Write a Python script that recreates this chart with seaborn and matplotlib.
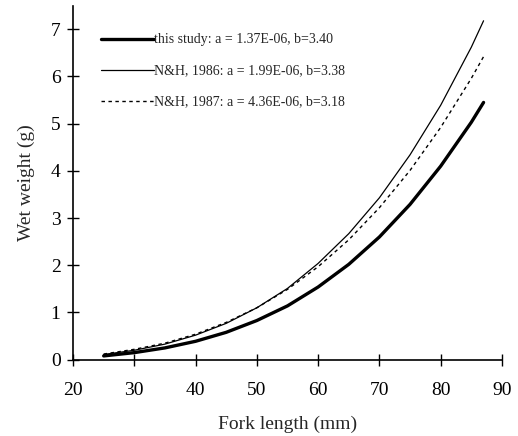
import pandas as pd
import matplotlib.pyplot as plt
import seaborn as sns

# fork length (mm) and wet weight (g)
fork_length = [25, 30, 35, 40, 45, 50, 55, 60, 65, 70, 75, 80, 85, 87]
this_study = [0.08, 0.15, 0.25, 0.39, 0.58, 0.83, 1.14, 1.54, 2.02, 2.60, 3.29, 4.10, 5.03, 5.45]
nh_1986 = [0.11, 0.20, 0.33, 0.52, 0.77, 1.10, 1.51, 2.04, 2.67, 3.43, 4.34, 5.39, 6.62, 7.18]
nh_1987 = [0.12, 0.22, 0.35, 0.54, 0.79, 1.10, 1.49, 1.97, 2.54, 3.22, 4.01, 4.92, 5.96, 6.42]

labels = ['this study: a = 1.37E-06, b=3.40',
          'N&H, 1986: a = 1.99E-06, b=3.38',
          'N&H, 1987: a = 4.36E-06, b=3.18']

df = pd.DataFrame({'fork_length': fork_length,
                   'this_study': this_study,
                   'nh_1986': nh_1986,
                   'nh_1987': nh_1987})

sns.set_style('ticks')
plt.rcParams['font.family'] = ['Liberation Serif', 'DejaVu Serif']

fig = plt.figure(figsize=(5.18, 4.36), dpi=100)
ax = fig.add_axes([0.141, 0.175, 0.828, 0.812])

sns.lineplot(data=df, x='fork_length', y='this_study', color='black', linewidth=2.4, label=labels[0], ax=ax)
sns.lineplot(data=df, x='fork_length', y='nh_1986', color='black', linewidth=0.9, label=labels[1], ax=ax)
sns.lineplot(data=df, x='fork_length', y='nh_1987', color='black', linewidth=1.0,
             linestyle=(0, (2.5, 2.5)), label=labels[2], ax=ax)

ax.set_xlim(20, 90)
ax.set_ylim(0, 7.5)
ax.set_xticks(range(20, 91, 10))
ax.set_yticks(range(0, 8))
ax.set_xlabel('Fork length (mm)', fontsize=14, labelpad=12)
ax.set_ylabel('Wet weight (g)', fontsize=14, labelpad=11)
ax.tick_params(direction='inout', length=8, width=1, labelsize=14, colors='black')
ax.tick_params(axis='x', pad=12)
ax.tick_params(axis='y', pad=5)
for s in ['top', 'right']:
    ax.spines[s].set_visible(False)
for s in ['left', 'bottom']:
    ax.spines[s].set_linewidth(1.2)
    ax.spines[s].set_color('black')

ax.legend(loc='upper left', bbox_to_anchor=(0.036, 0.957), frameon=False, fontsize=10,
          handlelength=3.8, handletextpad=0.0, labelspacing=1.3)

plt.savefig('out.png', dpi=100)
